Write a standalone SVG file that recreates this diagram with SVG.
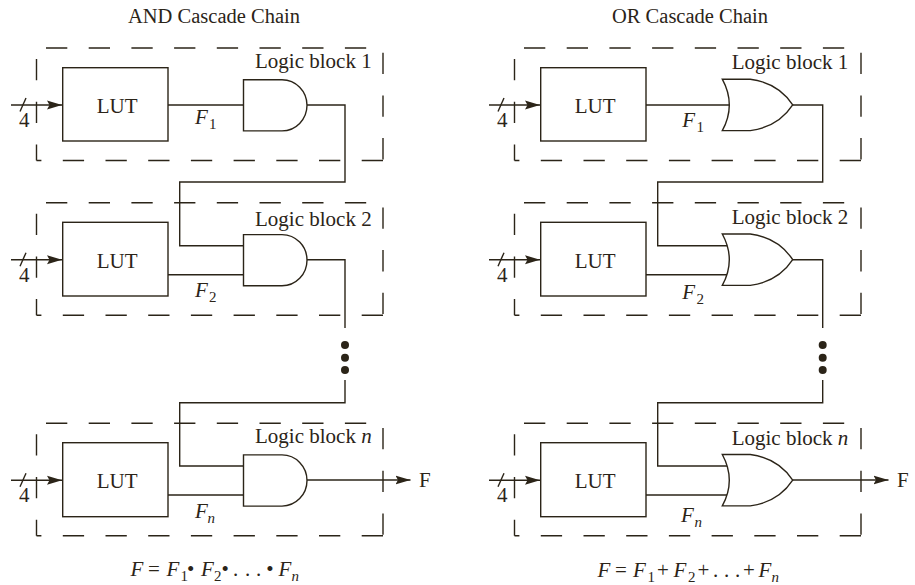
<svg xmlns="http://www.w3.org/2000/svg" xmlns:xlink="http://www.w3.org/1999/xlink" width="915" height="585" viewBox="0 0 915 585">
<style>
text{font-family:"Liberation Serif","Times New Roman",serif;font-size:21px;fill:#2b2418}
.t{font-size:20.5px}
.i{font-style:italic}
.s{font-size:15px}
.w,.b,.d,.g{fill:none;stroke:#2b2418;stroke-width:1.4}
.g{fill:#fff}
.b{fill:#fff}
.d{stroke-dasharray:21.3 21.4}
.dot{fill:#2b2418}
</style>
<defs>
<marker id="arr" markerUnits="userSpaceOnUse" markerWidth="16" markerHeight="10" refX="15" refY="5" orient="auto"><path d="M0 0.5L15 5L0 9.5L2.5 5Z" fill="#2b2418"/></marker>
<g id="dash">
<path class="d" d="M46 48H367"/>
<path class="d" d="M383 52.7V160.5"/>
<path class="d" d="M383 160.5H36.5"/>
<path class="d" d="M36.5 59V160.5"/>
</g>
<path id="and" class="g" d="M0-25.6H38.5A25 25.6 0 0 1 38.5 25.6H0Z"/>
<path id="or" class="g" d="M0-25.7H28Q56-22 70.4 0Q56 22 28 25.7H0Q14 0 0-25.7Z"/>
<g id="inp">
<path class="w" d="M11 105H62" marker-end="url(#arr)"/>
<path class="w" d="M20 111.5L26 98"/>
<text x="19" y="127">4</text>
</g>
</defs>

<g id="connectors">
<path class="w" d="M168 105H243.5M307 105H345V182H179.7V245.7H243.5M168 274.7H243.5M307 259.7H345V328M345 380V402.7H179.7V466H243.5M168 495H243.5"/>
<path class="w" d="M307 480H410.5" marker-end="url(#arr)"/>
<path class="w" d="M646 105H729M792.7 105H822.7V182H657.7V245.7H727M646 274.7H729M792.7 259.7H822.7V328M822.7 380V402.7H657.7V466H727M646 495H729"/>
<path class="w" d="M792.7 480H888.5" marker-end="url(#arr)"/>
</g>

<g id="and-block-1">
<use xlink:href="#dash" href="#dash"/>
<use xlink:href="#inp" href="#inp"/>
<rect class="b" x="62.7" y="67.7" width="105.3" height="73.3"/>
<text x="96.7" y="113.3">LUT</text>
<use href="#and" x="243.5" y="105.3"/>
<text x="255" y="67.7">Logic block 1</text>
<text x="195" y="124" class="i">F</text><text x="209" y="129" class="s">1</text>
</g>
<g id="and-block-2">
<use href="#dash" y="154.7"/>
<use href="#inp" y="154.7"/>
<rect class="b" x="62.7" y="222.3" width="105.3" height="73.7"/>
<text x="96.7" y="267.7">LUT</text>
<use href="#and" x="243.5" y="260.2"/>
<text x="255" y="225.7">Logic block 2</text>
<text x="195" y="296.7" class="i">F</text><text x="209" y="301.7" class="s">2</text>
</g>
<g id="and-block-n">
<use href="#dash" y="375.3"/>
<use href="#inp" y="375.3"/>
<rect class="b" x="62.7" y="442.7" width="105.3" height="74"/>
<text x="96.7" y="488.3">LUT</text>
<use href="#and" x="243.5" y="480.5"/>
<text x="255" y="443">Logic block <tspan class="i">n</tspan></text>
<text x="195" y="518" class="i">F</text><text x="207.5" y="522.7" class="s i">n</text>
<text x="419" y="487">F</text>
</g>
<g id="and-dots">
<circle class="dot" cx="345" cy="345" r="4"/><circle class="dot" cx="345" cy="357.7" r="4"/><circle class="dot" cx="345" cy="370" r="4"/>
</g>

<g id="or-block-1">
<use href="#dash" x="478"/>
<use href="#inp" x="478"/>
<rect class="b" x="540.7" y="67.7" width="105.3" height="73.3"/>
<text x="574.7" y="113.3">LUT</text>
<use href="#or" x="722.3" y="104.9"/>
<text x="731.7" y="69">Logic block 1</text>
<text x="682.3" y="127.3" class="i">F</text><text x="696.5" y="132.3" class="s">1</text>
</g>
<g id="or-block-2">
<use href="#dash" x="478" y="154.7"/>
<use href="#inp" x="478" y="154.7"/>
<rect class="b" x="540.7" y="222.3" width="105.3" height="73.7"/>
<text x="574.7" y="267.7">LUT</text>
<use href="#or" x="722.3" y="259.7"/>
<text x="731.7" y="224">Logic block 2</text>
<text x="682.3" y="299.3" class="i">F</text><text x="696.5" y="304.3" class="s">2</text>
</g>
<g id="or-block-n">
<use href="#dash" x="478" y="375.3"/>
<use href="#inp" x="478" y="375.3"/>
<rect class="b" x="540.7" y="442.7" width="105.3" height="74"/>
<text x="574.7" y="488.3">LUT</text>
<use href="#or" x="722.3" y="480.2"/>
<text x="731.7" y="445">Logic block <tspan class="i">n</tspan></text>
<text x="681" y="521.7" class="i">F</text><text x="694.5" y="526.7" class="s i">n</text>
<text x="897" y="487">F</text>
</g>
<g id="or-dots">
<circle class="dot" cx="822.7" cy="345" r="4"/><circle class="dot" cx="822.7" cy="357.7" r="4"/><circle class="dot" cx="822.7" cy="370" r="4"/>
</g>

<g id="titles">
<text class="t" x="128" y="23">AND Cascade Chain</text>
<text class="t" x="612" y="23">OR Cascade Chain</text>
</g>
<g id="formula-and">
<text y="576"><tspan x="130.5" class="i">F</tspan><tspan x="148">=</tspan><tspan x="166.5" class="i">F</tspan><tspan x="180.5" y="581" class="s">1</tspan><tspan x="187" y="576">•</tspan><tspan x="201" class="i">F</tspan><tspan x="214" y="581" class="s">2</tspan><tspan x="221.5" y="576">•</tspan><tspan x="233">.</tspan><tspan x="245">.</tspan><tspan x="256">.</tspan><tspan x="266.3">•</tspan><tspan x="278.5" class="i">F</tspan><tspan x="291.5" y="581" class="s i">n</tspan></text>
</g>
<g id="formula-or">
<text y="576.5"><tspan x="597.5" class="i">F</tspan><tspan x="615">=</tspan><tspan x="633" class="i">F</tspan><tspan x="647.5" y="581.5" class="s">1</tspan><tspan x="657" y="576.5">+</tspan><tspan x="673.5" class="i">F</tspan><tspan x="688" y="581.5" class="s">2</tspan><tspan x="697.5" y="576.5">+</tspan><tspan x="713">.</tspan><tspan x="724">.</tspan><tspan x="735">.</tspan><tspan x="743">+</tspan><tspan x="758.5" class="i">F</tspan><tspan x="771.5" y="581.5" class="s i">n</tspan></text>
</g>
</svg>
